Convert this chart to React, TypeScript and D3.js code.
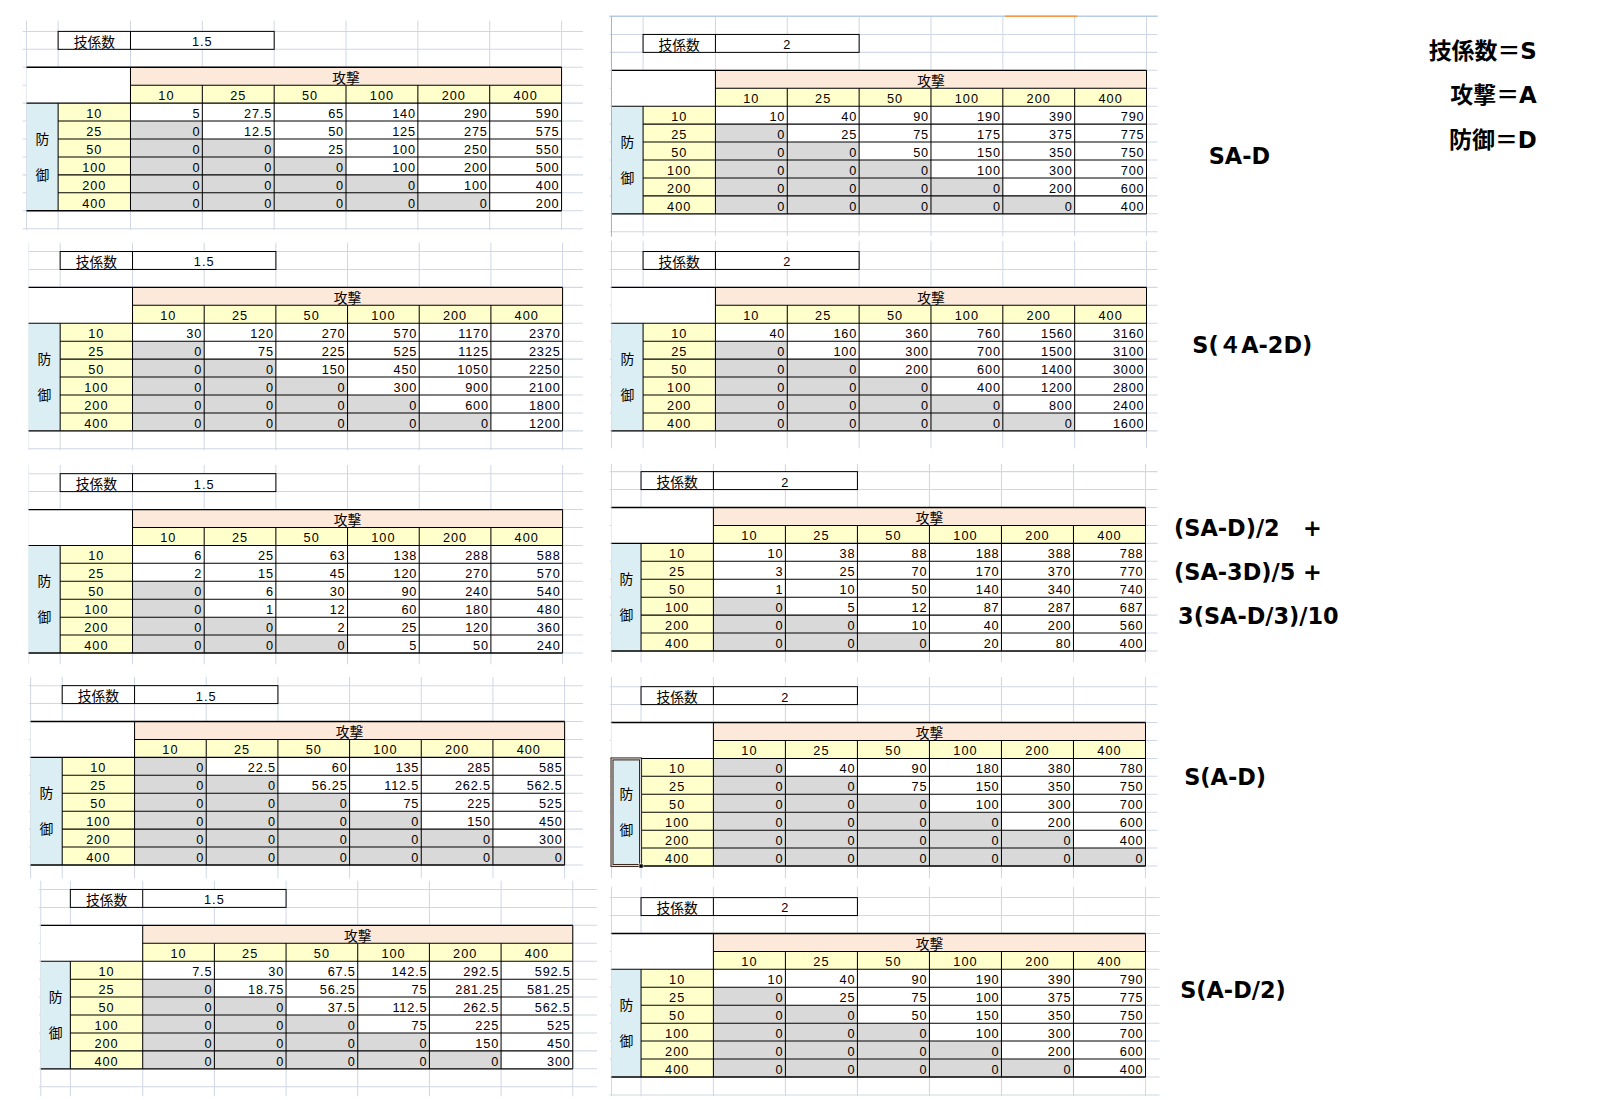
import React from 'react';
import * as d3 from 'd3';

// ---------- data ----------
const attackLevels = [10, 25, 50, 100, 200, 400];
const defenseLevels = [10, 25, 50, 100, 200, 400];
const coefTitle = '技係数';
const attackTitle = '攻撃';
const defenseChars = ['防', '御'];
const coefLeft = '1.5';
const coefRight = '2';

const sadLeft = [
  [5, 27.5, 65, 140, 290, 590],
  [0, 12.5, 50, 125, 275, 575],
  [0, 0, 25, 100, 250, 550],
  [0, 0, 0, 100, 200, 500],
  [0, 0, 0, 0, 100, 400],
  [0, 0, 0, 0, 0, 200],
];
const sadRight = [
  [10, 40, 90, 190, 390, 790],
  [0, 25, 75, 175, 375, 775],
  [0, 0, 50, 150, 350, 750],
  [0, 0, 0, 100, 300, 700],
  [0, 0, 0, 0, 200, 600],
  [0, 0, 0, 0, 0, 400],
];
const s4aLeft = [
  [30, 120, 270, 570, 1170, 2370],
  [0, 75, 225, 525, 1125, 2325],
  [0, 0, 150, 450, 1050, 2250],
  [0, 0, 0, 300, 900, 2100],
  [0, 0, 0, 0, 600, 1800],
  [0, 0, 0, 0, 0, 1200],
];
const s4aRight = [
  [40, 160, 360, 760, 1560, 3160],
  [0, 100, 300, 700, 1500, 3100],
  [0, 0, 200, 600, 1400, 3000],
  [0, 0, 0, 400, 1200, 2800],
  [0, 0, 0, 0, 800, 2400],
  [0, 0, 0, 0, 0, 1600],
];
const mixLeft = [
  [6, 25, 63, 138, 288, 588],
  [2, 15, 45, 120, 270, 570],
  [0, 6, 30, 90, 240, 540],
  [0, 1, 12, 60, 180, 480],
  [0, 0, 2, 25, 120, 360],
  [0, 0, 0, 5, 50, 240],
];
const mixRight = [
  [10, 38, 88, 188, 388, 788],
  [3, 25, 70, 170, 370, 770],
  [1, 10, 50, 140, 340, 740],
  [0, 5, 12, 87, 287, 687],
  [0, 0, 10, 40, 200, 560],
  [0, 0, 0, 20, 80, 400],
];
const sadsLeft = [
  [0, 22.5, 60, 135, 285, 585],
  [0, 0, 56.25, 112.5, 262.5, 562.5],
  [0, 0, 0, 75, 225, 525],
  [0, 0, 0, 0, 150, 450],
  [0, 0, 0, 0, 0, 300],
  [0, 0, 0, 0, 0, 0],
];
const sadsRight = [
  [0, 40, 90, 180, 380, 780],
  [0, 0, 75, 150, 350, 750],
  [0, 0, 0, 100, 300, 700],
  [0, 0, 0, 0, 200, 600],
  [0, 0, 0, 0, 0, 400],
  [0, 0, 0, 0, 0, 0],
];
const halfLeft = [
  [7.5, 30, 67.5, 142.5, 292.5, 592.5],
  [0, 18.75, 56.25, 75, 281.25, 581.25],
  [0, 0, 37.5, 112.5, 262.5, 562.5],
  [0, 0, 0, 75, 225, 525],
  [0, 0, 0, 0, 150, 450],
  [0, 0, 0, 0, 0, 300],
];
const halfRight = [
  [10, 40, 90, 190, 390, 790],
  [0, 25, 75, 100, 375, 775],
  [0, 0, 50, 150, 350, 750],
  [0, 0, 0, 100, 300, 700],
  [0, 0, 0, 0, 200, 600],
  [0, 0, 0, 0, 0, 400],
];

const legendLines = ['技係数＝S', '攻撃＝A', '防御＝D'];
const formulaLines = ['SA-D', 'S(４A-2D)', '(SA-D)/2   +', '(SA-3D)/5 +', '3(SA-D/3)/10', 'S(A-D)', 'S(A-D/2)'];

// ---------- layout (shrunk reference coords, scaled by viewBox) ----------
const panels = [
  { values: sadLeft, coef: coefLeft, left: 26, dataLeft: 128, dataRight: 551, top: 66, clip: [22, 572, 20, 226] },
  { values: sadRight, coef: coefRight, left: 600, dataLeft: 702, dataRight: 1125, top: 69, clip: [598, 1136, 16, 232] },
  { values: s4aLeft, coef: coefLeft, left: 28, dataLeft: 130, dataRight: 552, top: 282, clip: [28, 572, 238, 442] },
  { values: s4aRight, coef: coefRight, left: 600, dataLeft: 702, dataRight: 1125, top: 282, clip: [598, 1136, 236, 440] },
  { values: mixLeft, coef: coefLeft, left: 28, dataLeft: 130, dataRight: 552, top: 500, clip: [28, 572, 456, 652] },
  { values: mixRight, coef: coefRight, left: 600, dataLeft: 700, dataRight: 1124, top: 498, clip: [598, 1136, 455, 650] },
  { values: sadsLeft, coef: coefLeft, left: 30, dataLeft: 132, dataRight: 554, top: 708, clip: [28, 572, 664, 862] },
  { values: sadsRight, coef: coefRight, left: 600, dataLeft: 700, dataRight: 1124, top: 709, clip: [598, 1136, 664, 862], selected: true },
  { values: halfLeft, coef: coefLeft, left: 40, dataLeft: 140, dataRight: 562, top: 908, clip: [38, 586, 864, 1076] },
  { values: halfRight, coef: coefRight, left: 600, dataLeft: 700, dataRight: 1124, top: 916, clip: [598, 1138, 870, 1076] },
];
const legendPos = [{ x: 1508, y: 50 }, { x: 1508, y: 93 }, { x: 1508, y: 137 }];
const formulaPos = [
  { x: 1186, y: 153 }, { x: 1170, y: 338 }, { x: 1152, y: 518 }, { x: 1152, y: 561 },
  { x: 1156, y: 604 }, { x: 1162, y: 762 }, { x: 1158, y: 971 },
];

const ROW_H = 17.6;
const LABEL_W = 71;
const TXT_DY = 1.3;
const GRID = '#d0d7e5';
const PEACH = '#fde9d9';
const YELLOW = '#ffffcc';
const BLUE = '#daeef3';
const GRAY = '#d9d9d9';
const NUM_FONT = '"Liberation Sans", Arial, sans-serif';
const JP_FONT = '"Noto Sans CJK JP", sans-serif';

function Table({ p, idx }: { p: any; idx: number }) {
  const x = d3.scaleBand<number>().domain(attackLevels).range([p.dataLeft, p.dataRight]);
  const colW = x.bandwidth();
  const dataTop = p.top + 2 * ROW_H;
  const y = d3.scaleBand<number>().domain(defenseLevels).range([dataTop, dataTop + 6 * ROW_H]);
  const bottom = dataTop + 6 * ROW_H;
  const yellowLeft = p.dataLeft - LABEL_W;
  const [cx0, cx1, cy0, cy1] = p.clip;

  const vx: number[] = [p.left, yellowLeft];
  for (let k = 0; p.dataLeft + k * colW <= cx1 + 0.5; k++) vx.push(p.dataLeft + k * colW);
  const hy: number[] = [];
  for (let k = -12; k < 30; k++) {
    const yy = p.top + k * ROW_H;
    if (yy >= cy0 - 0.1 && yy <= cy1) hy.push(yy);
  }
  const clipId = `clip${idx}`;
  const boxTop = p.top - 2 * ROW_H;
  const boxRight = p.dataLeft + 2 * colW;

  return (
    <g>
      <defs>
        <clipPath id={clipId}>
          <rect x={cx0} y={cy0} width={cx1 - cx0} height={cy1 - cy0} />
        </clipPath>
      </defs>
      <g clipPath={`url(#${clipId})`}>
        {vx.filter((v) => v >= cx0 && v <= cx1).map((v, i) => (
          <line key={'v' + i} x1={v} x2={v} y1={cy0} y2={cy1} stroke={GRID} strokeWidth={1} />
        ))}
        {hy.map((h, i) => (
          <line key={'h' + i} x1={cx0} x2={cx1} y1={h} y2={h} stroke={GRID} strokeWidth={1} />
        ))}
      </g>
      {/* coefficient box */}
      <rect x={yellowLeft} y={boxTop} width={boxRight - yellowLeft} height={ROW_H} fill="#fff" stroke="#000" strokeWidth={1} />
      <line x1={p.dataLeft} x2={p.dataLeft} y1={boxTop} y2={boxTop + ROW_H} stroke="#000" />
      <text x={(yellowLeft + p.dataLeft) / 2} y={boxTop + ROW_H / 2 + TXT_DY} dy="0.36em" textAnchor="middle" fontFamily={JP_FONT} fontSize={13.5}>{coefTitle}</text>
      <text x={(p.dataLeft + boxRight) / 2} y={boxTop + ROW_H / 2 + TXT_DY} dy="0.36em" textAnchor="middle" fontFamily={NUM_FONT} fontSize={12.5} letterSpacing={1}>{p.coef}</text>

      {/* header fills */}
      <rect x={p.left} y={p.top} width={p.dataLeft - p.left} height={2 * ROW_H} fill="#fff" />
      <rect x={p.dataLeft} y={p.top} width={p.dataRight - p.dataLeft} height={ROW_H} fill={PEACH} />
      <rect x={p.dataLeft} y={p.top + ROW_H} width={p.dataRight - p.dataLeft} height={ROW_H} fill={YELLOW} />
      <rect x={p.left} y={dataTop} width={yellowLeft - p.left} height={6 * ROW_H} fill={BLUE} />
      <rect x={yellowLeft} y={dataTop} width={LABEL_W} height={6 * ROW_H} fill={YELLOW} />

      {/* data cells */}
      {p.values.map((row: number[], ri: number) =>
        row.map((v: number, ci: number) => (
          <rect key={`c${ri}-${ci}`} x={x(attackLevels[ci])} y={y(defenseLevels[ri])} width={colW} height={y.bandwidth()} fill={v === 0 ? GRAY : '#fff'} />
        ))
      )}

      {/* borders */}
      <line x1={p.left} x2={p.dataRight} y1={p.top} y2={p.top} stroke="#000" strokeWidth={1.3} />
      <line x1={p.dataLeft} x2={p.dataRight} y1={p.top + ROW_H} y2={p.top + ROW_H} stroke="#000" strokeWidth={1} />
      <line x1={p.left} x2={p.dataRight} y1={dataTop} y2={dataTop} stroke="#000" strokeWidth={1} />
      {defenseLevels.slice(1).map((d, i) => (
        <line key={'r' + i} x1={yellowLeft} x2={p.dataRight} y1={y(d)} y2={y(d)} stroke="#000" strokeWidth={1} />
      ))}
      <line x1={p.left} x2={p.dataRight} y1={bottom} y2={bottom} stroke="#000" strokeWidth={1.3} />
      <line x1={yellowLeft} x2={yellowLeft} y1={dataTop} y2={bottom} stroke="#000" />
      <line x1={p.dataLeft} x2={p.dataLeft} y1={p.top} y2={bottom} stroke="#000" />
      {attackLevels.slice(1).map((a, i) => (
        <line key={'cl' + i} x1={x(a)} x2={x(a)} y1={p.top + ROW_H} y2={bottom} stroke="#000" strokeWidth={1} />
      ))}
      <line x1={p.dataRight} x2={p.dataRight} y1={p.top} y2={bottom} stroke="#000" />

      {p.selected && (
        <g>
          <rect x={p.left + 0.5} y={dataTop + 0.5} width={yellowLeft - p.left - 1} height={6 * ROW_H - 1} fill="none" stroke="#3d2b22" strokeWidth={3} />
          <rect x={p.left + 0.5} y={dataTop + 0.5} width={yellowLeft - p.left - 1} height={6 * ROW_H - 1} fill="none" stroke="#fff" strokeWidth={0.8} />
          <rect x={yellowLeft - 2} y={bottom - 2} width={4} height={4} fill="#000" stroke="#fff" strokeWidth={0.6} />
        </g>
      )}

      {/* texts */}
      <text x={(p.dataLeft + p.dataRight) / 2} y={p.top + ROW_H / 2 + TXT_DY} dy="0.36em" textAnchor="middle" fontFamily={JP_FONT} fontSize={13.5}>{attackTitle}</text>
      {attackLevels.map((a) => (
        <text key={'ah' + a} x={(x(a) as number) + colW / 2} y={p.top + 1.5 * ROW_H + TXT_DY} dy="0.36em" textAnchor="middle" fontFamily={NUM_FONT} fontSize={12.5} letterSpacing={1}>{a}</text>
      ))}
      {defenseLevels.map((d) => (
        <text key={'dh' + d} x={yellowLeft + LABEL_W / 2} y={(y(d) as number) + ROW_H / 2 + TXT_DY} dy="0.36em" textAnchor="middle" fontFamily={NUM_FONT} fontSize={12.5} letterSpacing={1}>{d}</text>
      ))}
      {defenseChars.map((c, i) => (
        <text key={'dc' + i} x={(p.left + yellowLeft) / 2} y={dataTop + (2 + 2 * i) * ROW_H} dy="0.36em" textAnchor="middle" fontFamily={JP_FONT} fontSize={13.5}>{c}</text>
      ))}
      {p.values.map((row: number[], ri: number) =>
        row.map((v: number, ci: number) => (
          <text key={`t${ri}-${ci}`} x={(x(attackLevels[ci]) as number) + colW - 2} y={(y(defenseLevels[ri]) as number) + ROW_H / 2 + TXT_DY} dy="0.36em" textAnchor="end" fontFamily={NUM_FONT} fontSize={12.5} letterSpacing={0.8}>{String(v)}</text>
        ))
      )}
    </g>
  );
}

export default function App() {
  return (
    <svg
      width={1598}
      height={1100}
      viewBox="0 0 1568 1079.4"
      style={{ position: 'absolute', left: 0, top: 0, background: '#fff' }}
    >
      <rect x={0} y={0} width={1568} height={1080} fill="#fff" />
      {panels.map((p, i) => <Table key={i} p={p} idx={i} />)}
      {/* R1 sheet frame */}
      <line x1={598} x2={1136} y1={16} y2={16} stroke="#b8cce4" strokeWidth={1.5} />
      <line x1={986} x2={1057} y1={16} y2={16} stroke="#f79646" strokeWidth={1.5} />
      <line x1={600} x2={600} y1={16} y2={232} stroke="#a6b4c8" strokeWidth={1} />
      {legendLines.map((t, i) => (
        <text key={'lg' + i} x={legendPos[i].x} y={legendPos[i].y} dy="0.36em" textAnchor="end" fontFamily='"DejaVu Sans", "Noto Sans CJK JP", sans-serif' fontWeight="bold" fontSize={22.5}>{t}</text>
      ))}
      {formulaLines.map((t, i) => (
        <text key={'fm' + i} x={formulaPos[i].x} y={formulaPos[i].y} dy="0.36em" fontFamily='"DejaVu Sans", "Noto Sans CJK JP", sans-serif' fontWeight="bold" fontSize={22} style={{ whiteSpace: 'pre' }}>{t}</text>
      ))}
    </svg>
  );
}
